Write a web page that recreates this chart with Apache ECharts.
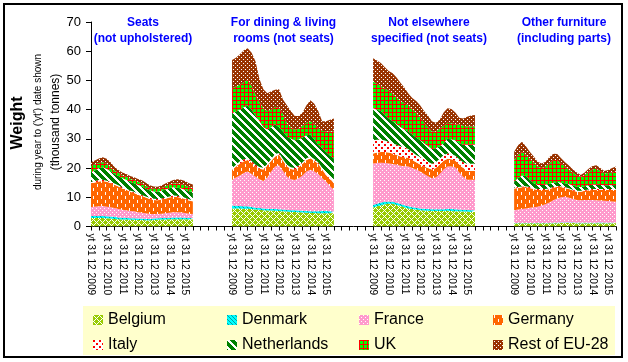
<!DOCTYPE html>
<html><head><meta charset="utf-8">
<script src="https://cdn.jsdelivr.net/npm/echarts/dist/echarts.min.js"></script>
<style>html,body{margin:0;padding:0;background:#fff}#c{width:628px;height:362px}</style>
</head><body><div id="c"></div>
<script>
const FONT = "'Liberation Sans', Arial, sans-serif";
const yearLabels = ['yt 31 12 2009','yt 31 12 2010','yt 31 12 2011','yt 31 12 2012','yt 31 12 2013','yt 31 12 2014','yt 31 12 2015'];
const groupTitles = [['Seats','(not upholstered)'],['For dining & living','rooms (not seats)'],['Not elsewhere','specified (not seats)'],['Other furniture','(including parts)']];
const seriesNames = ['Belgium','Denmark','France','Germany','Italy','Netherlands','UK','Rest of EU-28'];

// quarterly values (thousand tonnes), one array per product group
const belgium = [
 [2.9,2.9,2.9,2.9,2.8,2.7,2.6,2.5,2.4,2.4,2.3,2.3,2.2,2.2,2.1,2.1,2.2,2.3,2.4,2.4,2.5,2.5,2.5,2.5,2.5,2.4,2.4],
 [6.2,6.2,6.2,6.1,6.1,6.0,5.8,5.7,5.6,5.5,5.5,5.4,5.3,5.2,5.1,5.0,5.0,4.9,4.8,4.7,4.6,4.6,4.5,4.5,4.5,4.5,4.5],
 [6.5,6.9,7.2,7.6,7.8,7.8,7.4,7.0,6.6,6.2,6.0,5.8,5.6,5.5,5.4,5.3,5.3,5.3,5.3,5.4,5.3,5.2,5.2,5.1,5.1,5.0,5.0],
 [1.1,1.1,1.1,1.1,1.1,1.1,1.1,1.1,1.1,1.1,1.1,1.1,1.2,1.2,1.2,1.2,1.1,1.1,1.1,1.1,1.1,1.1,1.1,1.1,1.1,1.1,1.1]
];
const denmark = [
 [0.7,0.7,0.7,0.7,0.7,0.7,0.7,0.6,0.6,0.6,0.5,0.5,0.5,0.5,0.5,0.5,0.5,0.5,0.5,0.5,0.5,0.6,0.6,0.6,0.5,0.5,0.5],
 [1.0,0.9,0.8,0.8,0.8,0.7,0.6,0.6,0.6,0.6,0.5,0.6,0.6,0.6,0.6,0.6,0.6,0.6,0.6,0.6,0.6,0.6,0.7,0.8,0.8,0.7,0.6],
 [0.9,0.9,1.0,0.9,0.8,0.7,0.7,0.7,0.7,0.7,0.6,0.6,0.6,0.6,0.6,0.6,0.6,0.6,0.6,0.6,0.7,0.7,0.6,0.6,0.6,0.6,0.6],
 [0.1,0.1,0.1,0.1,0.1,0.1,0.1,0.1,0.1,0.1,0.2,0.2,0.2,0.2,0.2,0.2,0.2,0.2,0.2,0.2,0.2,0.2,0.3,0.2,0.2,0.2,0.2]
];
const france = [
 [3.1,3.2,3.3,3.4,3.3,3.2,3.0,2.9,2.7,2.6,2.5,2.4,2.2,2.0,1.9,1.7,1.6,1.5,1.5,1.6,1.7,1.8,1.8,1.7,1.6,1.5,1.4],
 [8.7,9.7,10.5,11.4,11.9,11.3,10.6,9.9,9.4,10.7,12.8,14.5,15.1,13.2,11.4,10.6,10.3,11.0,12.1,13.5,14.2,13.6,12.8,11.2,10.1,8.6,7.4],
 [14.2,13.9,13.6,13.2,13.0,12.9,13.0,13.1,13.3,13.6,13.4,13.1,12.6,11.9,11.2,10.6,10.9,12.1,13.6,14.5,14.5,14.3,12.7,11.3,10.3,10.4,10.4],
 [4.4,4.6,4.8,5.0,5.2,5.4,5.6,6.0,6.4,7.0,7.7,8.3,8.6,8.8,8.4,8.0,7.8,7.7,7.8,7.8,7.8,7.7,7.5,7.5,7.4,7.3,7.2]
];
const germany = [
 [8.1,8.3,8.5,8.6,8.5,8.3,8.0,7.7,7.3,7.0,6.6,6.3,6.0,5.7,5.4,5.1,4.8,4.7,4.8,5.0,5.2,5.3,5.2,5.0,4.8,4.5,4.3],
 [3.5,3.7,4.0,4.0,4.0,3.8,3.5,3.6,3.9,4.0,3.7,3.5,3.6,3.5,3.5,3.5,3.5,3.8,4.0,4.0,4.0,3.7,3.5,3.0,2.2,2.4,2.3],
 [3.4,3.6,3.7,3.8,3.7,3.6,3.4,3.2,3.1,3.0,2.8,2.5,2.4,2.5,2.8,3.0,3.2,3.2,3.0,2.7,2.5,2.3,2.7,3.0,3.0,3.0,3.0],
 [7.4,7.4,7.4,7.3,6.8,6.2,5.7,5.3,4.9,4.6,4.3,4.0,3.5,2.9,3.0,2.9,2.8,2.9,3.1,3.3,3.4,3.5,3.6,3.7,3.8,3.9,4.0]
];
const italy = [
 [0.5,0.5,0.5,0.4,0.4,0.4,0.4,0.4,0.4,0.4,0.4,0.4,0.4,0.4,0.4,0.4,0.4,0.4,0.4,0.4,0.4,0.4,0.4,0.4,0.4,0.4,0.4],
 [0.5,0.6,0.8,0.7,0.6,0.6,0.6,0.6,0.6,0.6,0.7,0.8,0.6,0.6,0.5,0.6,0.6,0.6,0.5,0.6,0.6,0.6,0.5,0.6,0.6,0.6,0.6],
 [4.5,4.4,4.3,3.9,3.7,3.5,3.5,3.5,3.3,3.0,2.7,2.5,2.6,2.5,2.2,2.0,2.0,2.0,2.0,1.8,1.8,1.7,1.8,2.0,2.5,2.5,2.6],
 [0.3,0.3,0.3,0.3,0.3,0.3,0.3,0.3,0.3,0.3,0.3,0.3,0.3,0.3,0.3,0.3,0.3,0.3,0.3,0.3,0.3,0.3,0.3,0.3,0.3,0.3,0.3]
];
const netherlands = [
 [3.3,3.6,4.0,4.3,4.0,3.6,3.3,3.2,3.1,3.0,2.9,2.9,2.9,2.9,2.6,2.5,2.5,2.5,2.6,2.8,2.8,2.8,2.8,2.8,2.8,2.8,2.9],
 [18.9,18.3,17.7,17.8,18.0,17.6,16.9,15.6,13.9,11.8,10.8,10.2,8.8,9.4,9.7,9.7,9.5,8.9,8.5,7.8,7.4,6.7,6.0,6.7,7.3,7.5,7.9],
 [11.0,10.3,9.7,8.8,8.0,7.5,7.0,6.5,6.2,6.0,6.0,6.0,5.7,5.5,5.3,5.0,4.8,4.3,4.0,5.0,5.0,5.3,5.5,6.0,6.5,6.5,6.4],
 [2.1,3.0,3.8,3.5,2.5,1.7,1.4,1.4,1.5,1.5,1.4,1.3,1.2,1.4,1.4,1.4,1.4,1.3,1.3,1.4,1.5,1.5,1.4,1.3,1.3,1.3,1.4]
];
const uk = [
 [2.2,2.0,1.8,1.7,1.8,1.4,1.2,1.0,1.0,1.0,1.1,1.1,1.1,1.1,1.0,0.9,0.9,0.9,1.0,1.1,1.2,1.4,1.5,1.5,1.5,1.3,1.3],
 [8.5,8.5,8.5,8.6,8.8,8.0,7.0,6.5,6.5,6.3,6.0,6.0,6.5,6.0,4.5,4.0,3.6,3.7,4.0,4.3,4.6,5.2,5.5,6.0,7.0,8.2,9.2],
 [9.1,8.8,8.5,9.0,9.5,9.5,9.2,9.0,9.0,9.0,8.7,8.5,7.7,7.0,6.5,6.0,5.7,6.0,6.0,5.5,5.5,5.5,6.3,6.5,6.2,6.2,6.2],
 [7.4,8.0,8.1,7.2,7.0,7.2,6.3,5.8,6.2,7.0,7.8,7.6,6.5,5.7,5.0,4.5,3.9,3.5,3.8,4.5,5.3,5.5,4.8,4.1,4.1,4.4,4.6]
];
const restOfEU = [
 [1.3,1.4,1.6,1.7,1.7,1.7,1.2,1.0,1.0,1.0,1.0,1.0,1.0,1.0,1.1,0.9,0.8,0.8,0.8,0.9,1.0,1.1,1.4,1.5,1.5,1.4,1.2],
 [9.7,9.9,10.5,10.9,10.8,11.5,11.5,8.0,6.5,6.1,6.3,5.8,6.5,5.0,6.2,5.5,4.7,4.3,4.5,6.0,7.2,7.0,6.0,3.2,3.5,4.0,4.5],
 [8.0,8.0,8.0,7.3,6.7,7.0,6.8,6.2,5.3,4.0,3.8,4.0,4.3,4.0,4.0,3.5,3.0,3.0,4.5,5.0,4.9,4.0,2.4,2.5,3.4,3.8,4.0],
 [2.8,3.3,3.4,3.0,2.6,2.0,1.7,1.6,1.7,2.2,2.1,2.0,1.9,1.5,1.4,1.0,1.0,0.6,0.9,1.2,1.1,1.2,1.0,0.8,1.1,1.5,1.7]
];
const countryData = [belgium, denmark, france, germany, italy, netherlands, uk, restOfEU];

// layout of the category axis: each group = 27 quarters, followed by 9 empty quarters
const GROUP_LEN = 27, GROUP_STEP = 36;
const categories = [], catLabels = [];
for (let g = 0; g < 4; g++) {
  const n = g < 3 ? GROUP_STEP : GROUP_LEN;
  for (let q = 0; q < n; q++) {
    categories.push('g' + g + 'q' + q);
    catLabels.push(q < GROUP_LEN && q % 4 === 0 ? yearLabels[q / 4] : '');
  }
}
function buildData(groups) {
  const out = [];
  groups.forEach((arr, g) => {
    arr.forEach(v => out.push(v));
    if (g < 3) for (let k = GROUP_LEN; k < GROUP_STEP; k++) out.push(null);
  });
  return out;
}

function makePattern(w, h, bg, draw) {
  const c = document.createElement('canvas');
  c.width = w; c.height = h;
  const ctx = c.getContext('2d');
  ctx.fillStyle = bg; ctx.fillRect(0, 0, w, h);
  draw(ctx, w, h);
  return { image: c, repeat: 'repeat' };
}
function px(ctx, color, test, w, h) {
  ctx.fillStyle = color;
  for (let y = 0; y < h; y++) for (let x = 0; x < w; x++) if (test(x, y)) ctx.fillRect(x, y, 1, 1);
}
const patterns = [
  makePattern(6, 6, '#99CC00', (c, w, h) => px(c, '#FFFFFF', (x, y) => (x + y) % 6 === 0 || (x - y + 12) % 6 === 0, w, h)),
  makePattern(4, 4, '#00FFFF', (c, w, h) => px(c, '#00A0A0', (x, y) => (x - y + 8) % 4 === 0, w, h)),
  makePattern(4, 4, '#FF99CC', (c) => { c.fillStyle = '#FFFFFF'; c.fillRect(0, 0, 1, 1); c.fillRect(2, 2, 1, 1); }),
  makePattern(8, 8, '#FF6600', (c) => { c.fillStyle = '#FFFFFF'; c.fillRect(1, 0, 1, 3); c.fillRect(5, 4, 1, 3); }),
  makePattern(6, 6, '#FFFFFF', (c) => { c.fillStyle = '#FF0000'; c.fillRect(0, 0, 2, 2); c.fillRect(3, 3, 2, 2); }),
  makePattern(8, 8, '#008000', (c, w, h) => px(c, '#FFFFFF', (x, y) => (((x - y) % 8) + 8) % 8 < 3, w, h)),
  makePattern(4, 4, '#00FF00', (c) => { c.fillStyle = '#FF0000'; c.fillRect(0, 0, 4, 1); c.fillRect(0, 0, 1, 4); }),
  makePattern(4, 4, '#993300', (c) => { c.fillStyle = '#FFFFFF'; c.fillRect(1, 1, 1, 1); c.fillRect(3, 3, 1, 1); })
];
const solid = ['#99CC00','#00FFFF','#FF99CC','#FF6600','#FF0000','#008000','#00FF00','#993300'];

const chart = echarts.init(document.getElementById('c'), null, { renderer: 'canvas' });

const legendPos = [[93,310],[227,310],[359,310],[493,310],[93,335],[227,335],[359,335],[493,335]];
const titleX = [143, 283.5, 429, 564];

const graphics = [
  { type: 'rect', shape: { x: 83, y: 306, width: 532, height: 49 }, style: { fill: '#FFFFCC' }, z: -1 },
  { type: 'rect', shape: { x: 4, y: 4, width: 618, height: 353 }, style: { fill: 'none', stroke: '#000', lineWidth: 2 } },
  { type: 'text', x: 17.5, y: 123, rotation: Math.PI / 2, style: { text: 'Weight', font: 'bold 16px ' + FONT, fill: '#000', textAlign: 'center', textVerticalAlign: 'middle' } },
  { type: 'text', x: 38, y: 122, rotation: Math.PI / 2, style: { text: "during year to ('yt') date shown", font: '10px ' + FONT, fill: '#000', textAlign: 'center', textVerticalAlign: 'middle' } },
  { type: 'text', x: 55.5, y: 122, rotation: Math.PI / 2, style: { text: '(thousand tonnes)', font: '12px ' + FONT, fill: '#000', textAlign: 'center', textVerticalAlign: 'middle' } }
];
groupTitles.forEach((t, g) => {
  graphics.push({ type: 'text', x: titleX[g], y: 23, style: { text: t[0], font: 'bold 12px ' + FONT, fill: '#0000FF', textAlign: 'center', textVerticalAlign: 'middle' } });
  graphics.push({ type: 'text', x: titleX[g], y: 38.5, style: { text: t[1], font: 'bold 12px ' + FONT, fill: '#0000FF', textAlign: 'center', textVerticalAlign: 'middle' } });
});

chart.setOption({
  animation: false,
  grid: { left: 91, right: 12, top: 22, bottom: 135.5, containLabel: false },
  xAxis: {
    type: 'category', data: categories, boundaryGap: false,
    axisLine: { lineStyle: { color: '#000', width: 1 } },
    axisTick: { show: true, interval: 1, length: 4, lineStyle: { color: '#000' } },
    axisLabel: { interval: 0, rotate: -90, margin: 7, fontSize: 10.2, color: '#000', fontFamily: FONT,
      formatter: (v, i) => catLabels[i] }
  },
  yAxis: {
    type: 'value', min: 0, max: 70, interval: 10,
    axisLine: { show: true, lineStyle: { color: '#000', width: 1 } },
    axisTick: { show: true, length: 5, lineStyle: { color: '#000' } },
    splitLine: { show: false },
    axisLabel: { fontSize: 13, color: '#000', margin: 10, fontFamily: FONT }
  },
  legend: seriesNames.map((name, i) => ({
    left: legendPos[i][0], top: legendPos[i][1], padding: 0, itemWidth: 10, itemHeight: 10,
    selectedMode: false,
    data: [{ name, icon: 'rect', itemStyle: { color: patterns[i], borderWidth: 0 } }],
    textStyle: { fontSize: 16, color: '#000', fontFamily: FONT, lineHeight: 20 }
  })),
  graphic: { elements: graphics },
  series: seriesNames.map((name, i) => ({
    name, type: 'line', stack: 'total', data: buildData(countryData[i]),
    symbol: 'none', showSymbol: false, connectNulls: false, silent: true,
    color: solid[i],
    lineStyle: { width: 0, opacity: 0 },
    areaStyle: { color: patterns[i], opacity: 1 },
    emphasis: { disabled: true }
  }))
});
</script></body></html>
